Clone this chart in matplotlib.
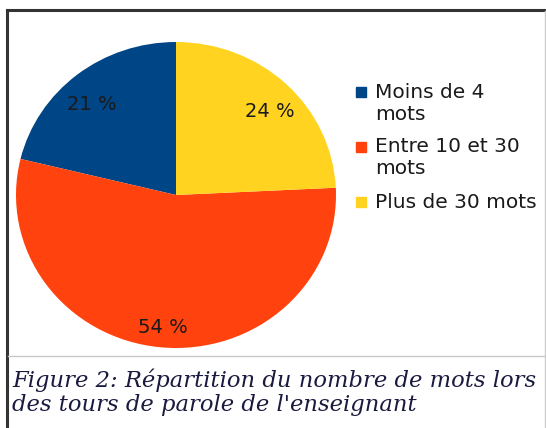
import matplotlib.pyplot as plt
from matplotlib.patches import Rectangle
from matplotlib.lines import Line2D

categories = ["Moins de 4\nmots", "Entre 10 et 30\nmots", "Plus de 30 mots"]
values = [21, 54, 24]
colors = ["#004586", "#ff420e", "#ffd320"]
caption = "Figure 2: Répartition du nombre de mots lors\ndes tours de parole de l'enseignant"

W, H = 546, 428
fig = plt.figure(figsize=(W / 100, H / 100), dpi=100)

def fx(px):
    return px / W

def fy(py):
    return 1 - py / H

# pie, slightly wider than tall like the original
cx, cy, rx, ry = 176, 195, 160, 153
ax = fig.add_axes([fx(cx - rx), fy(cy + ry), 2 * rx / W, 2 * ry / H])
total = sum(values)
wedges, texts, autotexts = ax.pie(
    values, colors=colors, startangle=90, counterclock=True,
    autopct=lambda p: f"{round(p * total / 100)} %", pctdistance=0.82,
    wedgeprops=dict(linewidth=0),
    textprops=dict(fontsize=14, color="#1a1a1a", family="DejaVu Sans"))
for t in autotexts:
    x, y = t.get_position()
    t.set_position((x * 1.04, y - 0.05))
ax.set_aspect("auto")
ax.set_xlim(-1, 1)
ax.set_ylim(-1, 1)
ax.axis("off")

# legend drawn by hand so the square sits on the first line
ly = [92, 147, 202]
for lab, col, y in zip(categories, colors, ly):
    fig.patches.append(Rectangle((fx(356), fy(y + 5)), 10 / W, 10 / H,
                                 transform=fig.transFigure, color=col))
    fig.text(fx(375), fy(y - 9.5), lab, fontsize=14.5, color="#1a1a1a",
             va="top", ha="left", linespacing=1.2, family="DejaVu Sans")

# frames
fig.lines.append(Line2D([fx(7), fx(7)], [fy(10), 0], transform=fig.transFigure,
                        color="#333333", lw=2.2))
fig.lines.append(Line2D([fx(7), fx(546)], [fy(10), fy(10)], transform=fig.transFigure,
                        color="#333333", lw=2.2))
fig.lines.append(Line2D([fx(544.5), fx(544.5)], [fy(11), 0], transform=fig.transFigure,
                        color="#cccccc", lw=1))
fig.lines.append(Line2D([fx(8), fx(545)], [fy(356), fy(356)], transform=fig.transFigure,
                        color="#c8c8c8", lw=1))

fig.text(fx(12), fy(368), caption, fontsize=16.3, style="italic", family="DejaVu Serif",
         color="#1a1a40", va="top", ha="left", linespacing=1.15)

fig.savefig("out.png", dpi=100)
